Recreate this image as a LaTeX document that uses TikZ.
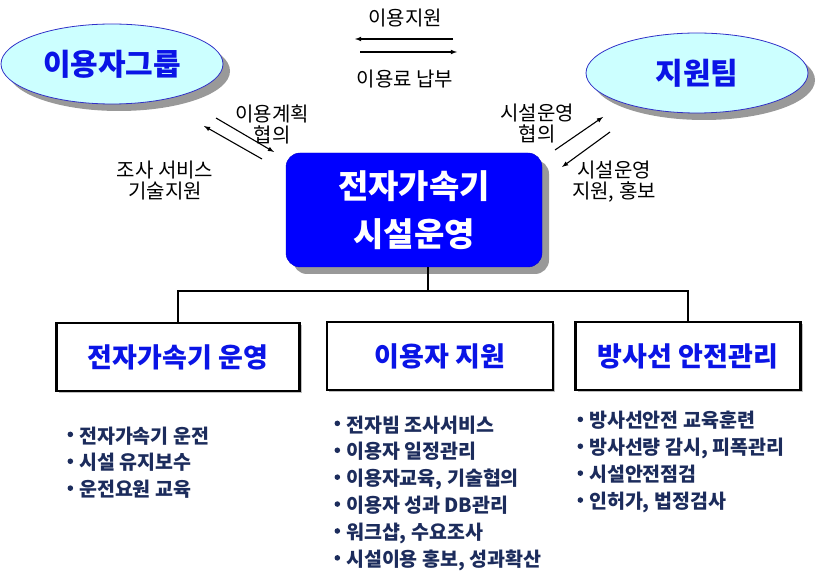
\documentclass[tikz,border=0pt]{standalone}
\usepackage{fontspec}
\setmainfont{Noto Sans CJK KR}
\usetikzlibrary{shapes.geometric,shadows,positioning}
\definecolor{skyfill}{HTML}{CCFFFF}
\definecolor{rimblue}{HTML}{3030C8}
\definecolor{titleblue}{HTML}{0A14E6}
\definecolor{navytext}{HTML}{1C2C5C}
\newcommand\bul{\raisebox{0.3em}{\tikz\fill[navytext] (0,0) circle (2.8pt);}\hspace{6pt}}
\tikzset{
  groupell/.style={ellipse, draw=rimblue, thick, fill=skyfill, inner sep=0pt,
    minimum width=222pt, minimum height=80pt, text=titleblue,
    font=\fontsize{30}{32}\selectfont\bfseries,
    drop shadow={shadow xshift=7pt, shadow yshift=-7pt, fill=gray!80, opacity=1}},
  mainbox/.style={rectangle, rounded corners=14pt, fill=blue, draw=blue!80!black,
    minimum width=256pt, minimum height=114pt, text=white, align=center,
    font=\fontsize{33}{48}\selectfont\bfseries,
    drop shadow={shadow xshift=7pt, shadow yshift=-7pt, fill=gray!80, opacity=1}},
  taskbox/.style={rectangle, draw, line width=2.5pt, fill=white,
    minimum height=68pt, text=titleblue, font=\fontsize{27}{30}\selectfont\bfseries,
    drop shadow={shadow xshift=2pt, shadow yshift=-2pt, fill=gray!50, opacity=1}},
  lbl/.style={align=center, font=\fontsize{20}{21}\selectfont},
  itemlist/.style={anchor=north west, align=left, text=navytext,
    font=\fontsize{19.5}{26.9}\selectfont\bfseries}
}
\begin{document}
\begin{tikzpicture}[>=latex, x=1pt, y=-1pt]
\useasboundingbox (0,0) rectangle (817,577);

\node[groupell] (users) at (112,64) {이용자그룹};
\node[groupell] (team) at (697,73) {지원팀};
\node[mainbox] (ops) at (414,210) {전자가속기\\시설운영};

\node[taskbox, minimum width=243pt] (run) at (178,357) {전자가속기 운영};
\node[taskbox, minimum width=226pt] (help) at (440,356) {이용자 지원};
\node[taskbox, minimum width=225pt] (safe) at (688,356) {방사선 안전관리};

% tree
\coordinate (hub) at (428,291);
\draw[line width=2.5pt] (ops.south -| hub) -- (hub);
\draw[line width=2.5pt] (run.north) |- (hub) -| (safe.north);

% arrows between the groups
\coordinate (ta) at (453,39);  \coordinate (tb) at (355,39);
\coordinate (tc) at (360,52);  \coordinate (td) at (457,52);
\draw[->, line width=1.1pt] (ta) -- (tb);
\draw[->, line width=1.1pt] (tc) -- (td);
\node[lbl] (tl1) at (405,18) {이용지원};
\node[lbl] (tl2) at (405,79) {이용료 납부};

\coordinate (la) at (216,118); \coordinate (lb) at (274,152);
\coordinate (lc) at (262,159); \coordinate (ld) at (204,126);
\draw[->, line width=1.1pt] (la) -- (lb);
\draw[->, line width=1.1pt] (lc) -- (ld);
\node[lbl] (ll1) at (272,124) {이용계획\\협의};
\node[lbl] (ll2) at (165,181) {조사 서비스\\기술지원};

\coordinate (ra) at (555,150); \coordinate (rb) at (603,117);
\coordinate (rc) at (610,132); \coordinate (rd) at (562,167);
\draw[->, line width=1.1pt] (ra) -- (rb);
\draw[->, line width=1.1pt] (rc) -- (rd);
\node[lbl] (rl1) at (537,124) {시설운영\\협의};
\node[lbl] (rl2) at (614,182) {시설운영\\지원, 홍보};

% item lists
\node[itemlist] (runlist) at (64,423) {\bul 전자가속기 운전\\\bul 시설 유지보수\\\bul 운전요원 교육};
\node[itemlist] (helplist) at (331,412) {\bul 전자빔 조사서비스\\\bul 이용자 일정관리\\\bul 이용자교육, 기술협의\\\bul 이용자 성과 DB관리\\\bul 워크샵, 수요조사\\\bul 시설이용 홍보, 성과확산};
\node[itemlist] (safelist) at (574,408) {\bul 방사선안전 교육훈련\\\bul 방사선량 감시, 피폭관리\\\bul 시설안전점검\\\bul 인허가, 법정검사};
\end{tikzpicture}
\end{document}
